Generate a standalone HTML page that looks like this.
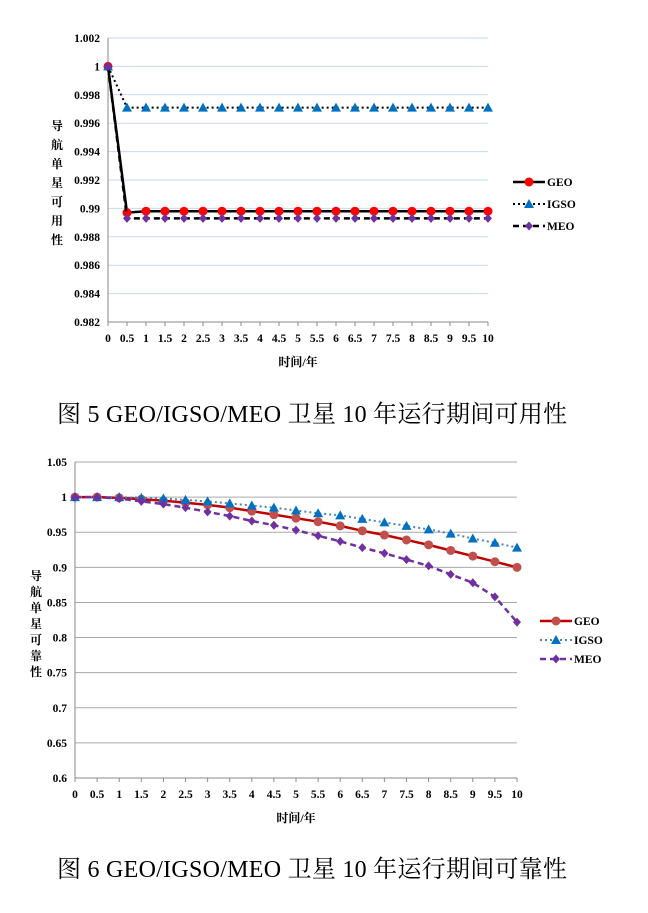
<!DOCTYPE html>
<html><head><meta charset="utf-8"><style>
body{margin:0;background:#fff;width:648px;height:908px;overflow:hidden}
svg text{font-family:"Liberation Serif","Noto Serif CJK SC",serif;font-weight:bold}
</style></head><body>
<svg id="s" width="648" height="908">
<text x="57" y="422" font-size="24" textLength="510" style="font-weight:normal">图 5 GEO/IGSO/MEO 卫星 10 年运行期间可用性</text>
<text x="57" y="877" font-size="24" textLength="510" style="font-weight:normal">图 6 GEO/IGSO/MEO 卫星 10 年运行期间可靠性</text>
</svg>
<script>
const xs=[0,0.5,1,1.5,2,2.5,3,3.5,4,4.5,5,5.5,6,6.5,7,7.5,8,8.5,9,9.5,10];
const xTickLabels=["0","0.5","1","1.5","2","2.5","3","3.5","4","4.5","5","5.5","6","6.5","7","7.5","8","8.5","9","9.5","10"];
const seriesNames=["GEO","IGSO","MEO"];
const availGEO=[1,0.9897,0.9898,0.9898,0.9898,0.9898,0.9898,0.9898,0.9898,0.9898,0.9898,0.9898,0.9898,0.9898,0.9898,0.9898,0.9898,0.9898,0.9898,0.9898,0.9898];
const availIGSO=[1,0.9971,0.9971,0.9971,0.9971,0.9971,0.9971,0.9971,0.9971,0.9971,0.9971,0.9971,0.9971,0.9971,0.9971,0.9971,0.9971,0.9971,0.9971,0.9971,0.9971];
const availMEO=[1,0.9893,0.9893,0.9893,0.9893,0.9893,0.9893,0.9893,0.9893,0.9893,0.9893,0.9893,0.9893,0.9893,0.9893,0.9893,0.9893,0.9893,0.9893,0.9893,0.9893];
const availTicks=[0.982,0.984,0.986,0.988,0.99,0.992,0.994,0.996,0.998,1,1.002];
const availTickLabels=["0.982","0.984","0.986","0.988","0.99","0.992","0.994","0.996","0.998","1","1.002"];
const relGEO=[1,1,0.999,0.997,0.995,0.992,0.989,0.985,0.98,0.975,0.97,0.965,0.959,0.952,0.946,0.939,0.932,0.924,0.916,0.908,0.9];
const relIGSO=[1,1,1,0.999,0.998,0.996,0.994,0.991,0.988,0.985,0.981,0.977,0.974,0.969,0.964,0.959,0.954,0.948,0.941,0.935,0.928];
const relMEO=[1,1,0.998,0.994,0.99,0.985,0.979,0.973,0.966,0.96,0.953,0.945,0.937,0.928,0.92,0.911,0.902,0.89,0.878,0.858,0.822];
const relTicks=[0.6,0.65,0.7,0.75,0.8,0.85,0.9,0.95,1,1.05];
const relTickLabels=["0.6","0.65","0.7","0.75","0.8","0.85","0.9","0.95","1","1.05"];

const svg=document.getElementById('s');const NS='http://www.w3.org/2000/svg';
function el(t,a,p){const e=document.createElementNS(NS,t);for(const k in a)e.setAttribute(k,a[k]);(p||svg).appendChild(e);return e;}
function marker(g,kind,x,y,col){
 if(kind==='c')return el('circle',{cx:x,cy:y,r:4.5,fill:col},g);
 if(kind==='t')return el('polygon',{points:`${x},${y-5} ${x-5},${y+4} ${x+5},${y+4}`,fill:col},g);
 return el('polygon',{points:`${x},${y-4.5} ${x+4},${y} ${x},${y+4.5} ${x-4},${y}`,fill:col},g);
}
function chart(o){
 const g=el('g',{});
 
 
 const X=v=>o.x0+(v-xs[0])/(xs[xs.length-1]-xs[0])*(o.x1-o.x0);
 const Y=v=>o.yb+(v-o.ticks[0])/(o.ticks[o.ticks.length-1]-o.ticks[0])*(o.yt-o.yb);
 o.ticks.forEach((t,i)=>{
  const l=el('line',{x1:o.x0,x2:o.x1,y1:Y(t),y2:Y(t),stroke:o.grid,'stroke-width':1},g);
  
  
  const tx=el('text',{x:o.x0-8,y:Y(t)+4,'font-size':11.5,'text-anchor':'end'},g);tx.textContent=o.tickLabels[i];
  
  
 });
 el('line',{x1:o.x0,x2:o.x0,y1:o.yt,y2:o.yb,stroke:'#888'},g);
 el('line',{x1:o.x0,x2:o.x1,y1:o.yb,y2:o.yb,stroke:'#888'},g);
 xs.forEach((v,i)=>{
  el('line',{x1:X(v),x2:X(v),y1:o.yb,y2:o.yb+4,stroke:'#888'},g);
  const tx=el('text',{x:X(v),y:o.yb+20,'font-size':11.5,'text-anchor':'middle'},g);tx.textContent=xTickLabels[i];
  
  
 });
 const xt=el('text',{x:(o.x0+o.x1)/2,y:o.yb+44,'font-size':12,'text-anchor':'middle'},g);xt.textContent='时间/年';
 
 
 const yg=el('text',{x:o.ytx,y:o.yty,'font-size':12,'text-anchor':'middle'},g);
 
 
 [...o.ytitle].forEach((c,i)=>{const ts=el('tspan',{x:o.ytx,dy:i?o.ytstep:0},yg);ts.textContent=c;});
 o.series.forEach((s,si)=>{
  const pts=s.data.map((v,i)=>X(xs[i])+','+Y(v)).join(' ');
  const pl=el('polyline',{points:pts,fill:'none',stroke:s.line,'stroke-width':s.w,'stroke-dasharray':s.dash},g);
  
  
  s.data.forEach((v,i)=>{const m=marker(g,s.m,X(xs[i]),Y(v),s.col);
   
   });
  const ly=o.ly+si*o.lstep;
  const lg=el('g',{},g);
  
  
  el('line',{x1:o.lx,x2:o.lx+32,y1:ly,y2:ly,stroke:s.line,'stroke-width':s.w,'stroke-dasharray':s.dash},lg);
  marker(lg,s.m,o.lx+16,ly,s.col);
  const lt=el('text',{x:o.lx+34,y:ly+4,'font-size':11.5},lg);lt.textContent=seriesNames[si];
 });
}
chart({name:'availability-chart',x0:108,x1:488,yt:38,yb:322,ticks:availTicks,tickLabels:availTickLabels,grid:'#c5d9f1',
 ytitle:'导航单星可用性',ytx:57,yty:130,ytstep:19,lx:513,ly:182,lstep:22,
 series:[{data:availGEO,line:'#000',col:'#ff0000',w:2.5,dash:'',m:'c'},
 {data:availIGSO,line:'#000',col:'#0070c0',w:2,dash:'2,3',m:'t'},
 {data:availMEO,line:'#000',col:'#7030a0',w:2.5,dash:'6,4',m:'d'}]});
chart({name:'reliability-chart',x0:75,x1:517,yt:462,yb:778,ticks:relTicks,tickLabels:relTickLabels,grid:'#aaa',
 ytitle:'导航单星可靠性',ytx:36,yty:580,ytstep:16,lx:540,ly:621,lstep:19,
 series:[{data:relGEO,line:'#c00000',col:'#c0504d',w:2.5,dash:'',m:'c'},
 {data:relIGSO,line:'#4f81bd',col:'#0070c0',w:2,dash:'2,3',m:'t'},
 {data:relMEO,line:'#7030a0',col:'#7030a0',w:2.5,dash:'6,4',m:'d'}]});
</script>
</body></html>
